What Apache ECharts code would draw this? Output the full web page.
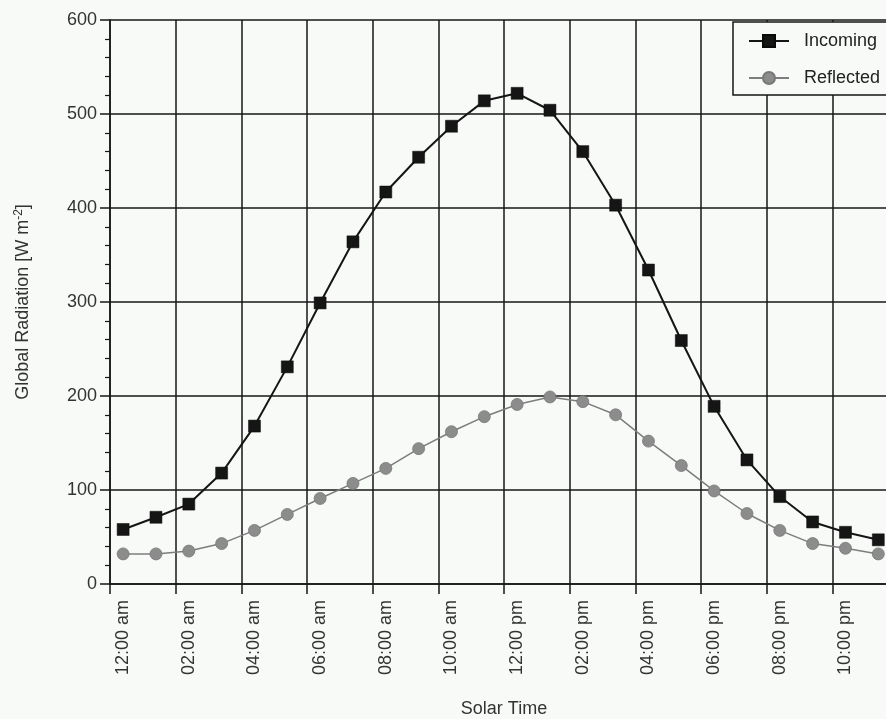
<!DOCTYPE html>
<html>
<head>
<meta charset="utf-8">
<script src="https://cdn.jsdelivr.net/npm/echarts@6/dist/echarts.min.js"></script>
<style>
  html, body { margin: 0; padding: 0; background: #f8faf7; overflow: hidden; }
  #chart { width: 940px; height: 719px; }
</style>
</head>
<body>
<div id="chart"></div>
<script>
// Hour of day (solar time) for each reading
const hours = [0, 1, 2, 3, 4, 5, 6, 7, 8, 9, 10, 11, 12, 13, 14, 15, 16, 17, 18, 19, 20, 21, 22, 23];
// Global radiation, W m^-2
const incoming = [58, 71, 85, 118, 168, 231, 299, 364, 417, 454, 487, 514, 522, 504, 460, 403, 334, 259, 189, 132, 93, 66, 55, 47];
const reflected = [32, 32, 35, 43, 57, 74, 91, 107, 123, 144, 162, 178, 191, 199, 194, 180, 152, 126, 99, 75, 57, 43, 38, 32];
// Time axis labels
const labelHours = [0, 2, 4, 6, 8, 10, 12, 14, 16, 18, 20, 22];
const timeLabels = ['12:00 am', '02:00 am', '04:00 am', '06:00 am', '08:00 am', '10:00 am',
                    '12:00 pm', '02:00 pm', '04:00 pm', '06:00 pm', '08:00 pm', '10:00 pm'];

// grid lines sit a little before each labelled hour
const gridShift = 0.4;
const gridHours = labelHours.map(h => h - gridShift);

const font = '"Liberation Sans", Arial, Helvetica, sans-serif';
const ink = '#161616';
const textCol = '#333';

const chart = echarts.init(document.getElementById('chart'), null, { renderer: 'canvas' });

chart.setOption({
  backgroundColor: '#f8faf7',
  animation: false,
  textStyle: { fontFamily: font },
  grid: { left: 110, top: 20, right: 42, bottom: 135, containLabel: false, outerBoundsMode: 'none' },
  legend: {
    orient: 'vertical',
    left: 733,
    top: 22,
    padding: [10, 60, 8, 15],
    itemWidth: 40,
    itemHeight: 15,
    itemGap: 19,
    borderColor: ink,
    borderWidth: 1.5,
    backgroundColor: '#f8faf7',
    textStyle: { fontFamily: font, fontSize: 18, color: '#222', padding: [0, 0, 0, 10] },
    data: ['Incoming', 'Reflected']
  },
  xAxis: {
    type: 'value',
    min: -gridShift,
    max: 24 - gridShift,
    name: 'Solar Time',
    nameLocation: 'middle',
    nameGap: 116,
    nameTextStyle: { fontFamily: font, fontSize: 18, color: textCol },
    axisLine: { show: true, onZero: false, lineStyle: { color: ink, width: 1.5 } },
    axisTick: { show: true, inside: false, length: 10, customValues: gridHours, lineStyle: { color: ink, width: 1.5 } },
    splitLine: { show: true, lineStyle: { color: ink, width: 1.5 } },
    axisLabel: {
      customValues: labelHours,
      rotate: 90,
      margin: 16,
      fontFamily: font,
      fontSize: 18,
      color: textCol,
      formatter: v => {
        const i = labelHours.indexOf(Math.round(v));
        return i >= 0 ? timeLabels[i] : '';
      }
    }
  },
  yAxis: {
    type: 'value',
    min: 0,
    max: 600,
    interval: 100,
    name: '{a|Global Radiation [W m}{s|-2}{a|]}',
    nameLocation: 'middle',
    nameGap: 77,
    nameTextStyle: {
      rich: {
        a: { fontFamily: font, fontSize: 18, color: textCol },
        s: { fontFamily: font, fontSize: 12, color: textCol, verticalAlign: 'top', padding: [0, 0, 8, 0] }
      }
    },
    axisLine: { show: true, onZero: false, lineStyle: { color: ink, width: 1.5 } },
    axisTick: { show: true, inside: false, length: 10, lineStyle: { color: ink, width: 1.5 } },
    minorTick: { show: true, splitNumber: 5, length: 5, lineStyle: { color: ink, width: 1.2 } },
    splitLine: { show: true, lineStyle: { color: ink, width: 1.5 } },
    axisLabel: { margin: 13, fontFamily: font, fontSize: 18, color: textCol }
  },
  series: [
    {
      name: 'Incoming',
      type: 'line',
      data: hours.map((h, i) => [h, incoming[i]]),
      symbol: 'rect',
      symbolSize: 12,
      showAllSymbol: true,
      lineStyle: { color: '#151515', width: 2 },
      itemStyle: { color: '#151515', borderColor: '#0a0a0a', borderWidth: 0.5 },
      z: 3
    },
    {
      name: 'Reflected',
      type: 'line',
      data: hours.map((h, i) => [h, reflected[i]]),
      symbol: 'circle',
      symbolSize: 12,
      showAllSymbol: true,
      lineStyle: { color: '#7d7d7d', width: 1.5 },
      itemStyle: { color: '#8c8c8c', borderColor: '#777', borderWidth: 0.8 },
      z: 2
    }
  ]
});
</script>
</body>
</html>
